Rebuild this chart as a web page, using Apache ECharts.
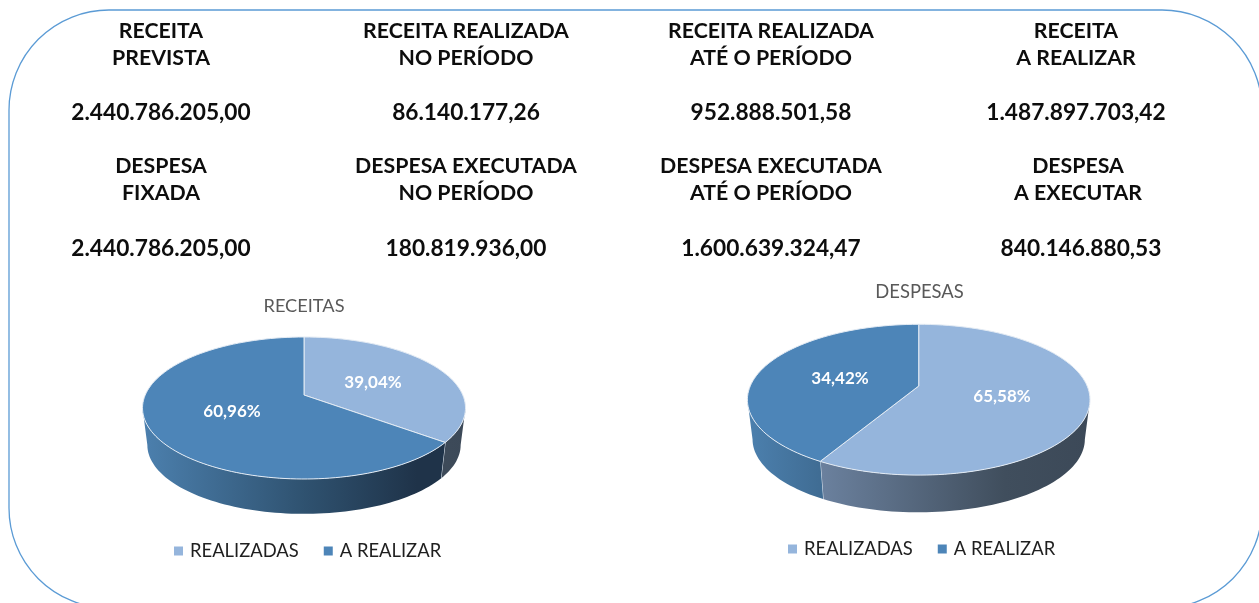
<!DOCTYPE html>
<html>
<head>
<meta charset="utf-8">
<title>Receitas e despesas</title>
<style>
  html, body { margin: 0; padding: 0; background: #fff; }
  #main { width: 1259px; height: 603px; }
</style>
<script src="https://cdn.jsdelivr.net/npm/echarts@6/dist/echarts.min.js"></script>
</head>
<body>
<div id="main"></div>
<script>
// valores
const sliceNames = ['REALIZADAS', 'A REALIZAR'];
const receitasPct = [39.04, 60.96];
const despesasPct = [65.58, 34.42];

const headReceita = ['RECEITA\nPREVISTA', 'RECEITA REALIZADA\nNO PERÍODO', 'RECEITA REALIZADA\nATÉ O PERÍODO', 'RECEITA\nA REALIZAR'];
const valReceita = ['2.440.786.205,00', '86.140.177,26', '952.888.501,58', '1.487.897.703,42'];
const headDespesa = ['DESPESA\nFIXADA', 'DESPESA EXECUTADA\nNO PERÍODO', 'DESPESA EXECUTADA\nATÉ O PERÍODO', 'DESPESA\nA EXECUTAR'];
const valDespesa = ['2.440.786.205,00', '180.819.936,00', '1.600.639.324,47', '840.146.880,53'];

const FONT = 'Lato, "Noto Sans", sans-serif';
const colTop = ['#95b5dc', '#4d85b8'];
const wallStops = [
  [[0, '#7c95b8'], [0.75, '#404e5d'], [1, '#3c4958']],
  [[0, '#4c80ae'], [0.5, '#2f5270'], [0.85, '#1f3349'], [1, '#1f3349']]
];

// geometria das duas pizzas
const pieReceitas = { values: receitasPct, cx: 304, cy: 408, rx: 161.5, ry: 71, depth: 37, apexY: 395, labels: [[373, 383], [232, 412]] };
const pieDespesas = { values: despesasPct, cx: 918.7, cy: 399.7, rx: 171.3, ry: 75.4, depth: 39.5, apexY: 386, labels: [[1002, 397], [840, 379]] };

const RAD = Math.PI / 180;
const SHRINK = 0.97; // a base fica um pouco menor por causa da perspectiva

// angulo real -> angulo na elipse (o grafico 3d distorce as fatias)
function warp(deg) {
  return deg - 12.67 * (1 - Math.cos(deg * RAD)) + 1.5 * Math.sin(deg * RAD);
}

function pt(p, t, lower) {
  const k = lower ? SHRINK : 1;
  return [
    p.cx + p.rx * k * Math.sin(t * RAD),
    p.cy + (lower ? p.depth : 0) - p.ry * k * Math.cos(t * RAD)
  ];
}

function arc(p, t0, t1, lower) {
  const out = [];
  const n = Math.max(2, Math.ceil(Math.abs(t1 - t0) / 2));
  for (let i = 0; i <= n; i++) {
    out.push(pt(p, t0 + (t1 - t0) * i / n, lower));
  }
  return out;
}

function renderSlice(p, idx) {
  const total = p.values.reduce((a, b) => a + b, 0);
  let sum = 0;
  for (let i = 0; i < idx; i++) sum += p.values[i];
  const t0 = warp(sum / total * 360);
  const t1 = warp((sum + p.values[idx]) / total * 360);
  const children = [];

  // parede lateral, so a parte da frente
  const w0 = Math.max(t0, 90), w1 = Math.min(t1, 270);
  if (w1 > w0) {
    children.push({
      type: 'polygon',
      shape: { points: arc(p, w0, w1, false).concat(arc(p, w1, w0, true)) },
      style: {
        fill: {
          type: 'linear', global: true,
          x: p.cx - p.rx, y: 0, x2: p.cx + p.rx, y2: 0,
          colorStops: wallStops[idx].map(s => ({ offset: s[0], color: s[1] }))
        }
      }
    });
    if (t1 > 90 && t1 < 270) {
      const a = pt(p, t1, false), b = pt(p, t1, true);
      children.push({
        type: 'line',
        shape: { x1: a[0], y1: a[1], x2: b[0], y2: b[1] },
        style: { stroke: '#dfe8f2', lineWidth: 1 }
      });
    }
  }

  // face de cima
  children.push({
    type: 'polygon',
    z2: 5,
    shape: { points: [[p.cx, p.apexY]].concat(arc(p, t0, t1, false)) },
    style: { fill: colTop[idx], stroke: '#e3ebf4', lineWidth: 1 }
  });

  children.push({
    type: 'text',
    z2: 10,
    style: {
      x: p.labels[idx][0], y: p.labels[idx][1],
      text: p.values[idx].toFixed(2).replace('.', ',') + '%',
      fill: '#fff', font: 'bold 17px ' + FONT, align: 'center', verticalAlign: 'middle'
    }
  });
  return { type: 'group', children: children };
}

function sliceSeries(p) {
  return p.values.map((v, idx) => ({
    type: 'custom',
    name: sliceNames[idx],
    coordinateSystem: 'none',
    silent: true,
    itemStyle: { color: colTop[idx] },
    data: [v],
    renderItem: () => renderSlice(p, idx)
  }));
}

function textBlock(list, rows, size, weight, color) {
  const colX = rows.colX;
  return list.map((s, i) => ({
    type: 'text',
    style: {
      x: colX[i], y: rows.y,
      text: s, fill: color,
      font: weight + ' ' + size + 'px ' + FONT,
      lineHeight: rows.lh || 27,
      align: 'center', verticalAlign: 'middle'
    }
  }));
}

const colHead = [161, 466, 771, 1076];
const colHead2 = [161, 466, 771, 1078];
const colVal2 = [161, 466, 771, 1081];

const option = {
  animation: false,
  backgroundColor: '#fff',
  graphic: [
    {
      type: 'rect',
      shape: { x: 9, y: 10, width: 1253, height: 598, r: 100 },
      style: { fill: 'none', stroke: '#5b9bd5', lineWidth: 1.3 }
    },
    ...textBlock(headReceita, { colX: colHead, y: 44.5 }, 21.3, 'bold', '#0d0d0d'),
    ...textBlock(valReceita, { colX: colHead, y: 113 }, 22.7, 'bold', '#0d0d0d'),
    ...textBlock(headDespesa, { colX: colHead2, y: 180 }, 21.3, 'bold', '#0d0d0d'),
    ...textBlock(valDespesa, { colX: colVal2, y: 249 }, 22.7, 'bold', '#0d0d0d'),
    { type: 'text', style: { x: 304, y: 306, text: 'RECEITAS', fill: '#595959', font: '18.2px ' + FONT, align: 'center', verticalAlign: 'middle' } },
    { type: 'text', style: { x: 919.5, y: 292, text: 'DESPESAS', fill: '#595959', font: '18.4px ' + FONT, align: 'center', verticalAlign: 'middle' } }
  ],
  legend: [
    {
      left: 169, top: 537, data: sliceNames, icon: 'rect', itemWidth: 9, itemHeight: 9, itemGap: 25,
      selectedMode: false, textStyle: { fontFamily: FONT, fontSize: 18.4, color: '#1f1f1f', padding: [0, 0, 0, 2] }
    },
    {
      left: 783, top: 535, data: sliceNames, icon: 'rect', itemWidth: 9, itemHeight: 9, itemGap: 25,
      selectedMode: false, textStyle: { fontFamily: FONT, fontSize: 18.4, color: '#1f1f1f', padding: [0, 0, 0, 2] }
    }
  ],
  series: sliceSeries(pieReceitas).concat(sliceSeries(pieDespesas))
};

const myChart = echarts.init(document.getElementById('main'));
myChart.setOption(option);
</script>
</body>
</html>
